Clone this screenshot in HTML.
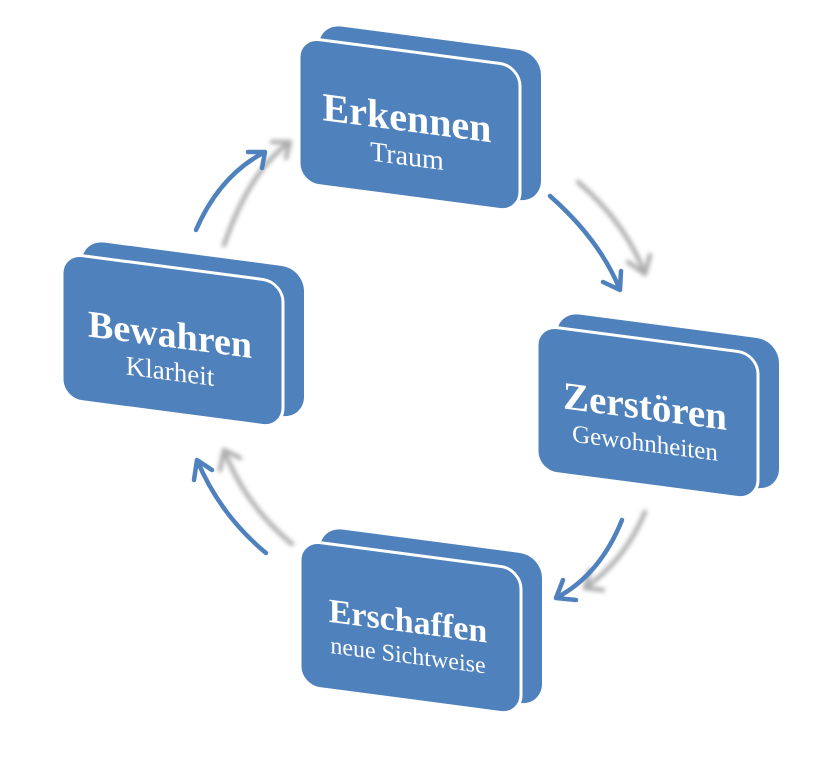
<!DOCTYPE html>
<html><head><style>body{margin:0;background:#fff}</style></head><body>
<svg width="814" height="754" viewBox="0 0 814 754" xmlns="http://www.w3.org/2000/svg">
<defs>
<filter id="bl" x="-50%" y="-50%" width="200%" height="200%"><feGaussianBlur stdDeviation="2.2"/></filter>
<g id="box">
<rect x="20" y="-16" width="222" height="150" rx="22" fill="#4f81bd"/>
<rect x="0" y="0" width="221" height="146" rx="20" fill="#4f81bd" stroke="#fff" stroke-width="3"/>
</g>
</defs>
<g font-family="'Liberation Serif',serif" fill="#fff" text-anchor="middle">
<g transform="translate(299,37) skewY(7.5)">
<use href="#box"/>
<text x="108" y="80" font-size="40" font-weight="bold">Erkennen</text>
<text x="108" y="114" font-size="28">Traum</text>
</g>
<g transform="translate(537,325) skewY(7.5)">
<use href="#box"/>
<text x="108" y="80" font-size="39" font-weight="bold">Zerstören</text>
<text x="108" y="112" font-size="25">Gewohnheiten</text>
</g>
<g transform="translate(62,253) skewY(7.5)">
<use href="#box"/>
<text x="108" y="80" font-size="38" font-weight="bold">Bewahren</text>
<text x="108" y="113" font-size="27">Klarheit</text>
</g>
<g transform="translate(300,540) skewY(7.5)">
<use href="#box"/>
<text x="108" y="78" font-size="34" font-weight="bold">Erschaffen</text>
<text x="108" y="109" font-size="24">neue Sichtweise</text>
</g>
</g>
<g fill="none" stroke-width="4.5" stroke-linecap="round" stroke-linejoin="round">
<g stroke="#9a9a9a" filter="url(#bl)" opacity="0.8">
<path d="M578 182 Q625 222 645 274 M628 262 L645 274 L650 255"/>
<path d="M645 512 Q625 560 585 588 M590 570 L585 588 L603 590"/>
<path d="M292 544 Q245 505 224 450 M220 470 L224 450 L240 458"/>
<path d="M224 245 Q250 170 290 142 M272 142 L290 142 L286 158"/>
</g>
<g stroke="#4f81bd">
<path d="M550 196 Q600 240 620 290 M603 282 L620 290 L621 271"/>
<path d="M622 520 Q600 575 556 598 M563 580 L556 598 L576 600"/>
<path d="M266 553 Q220 515 197 460 M194 480 L197 460 L212 470"/>
<path d="M196 230 Q220 175 265 152 M248 152 L265 152 L262 168"/>
</g>
</g>
</svg>
</body></html>
